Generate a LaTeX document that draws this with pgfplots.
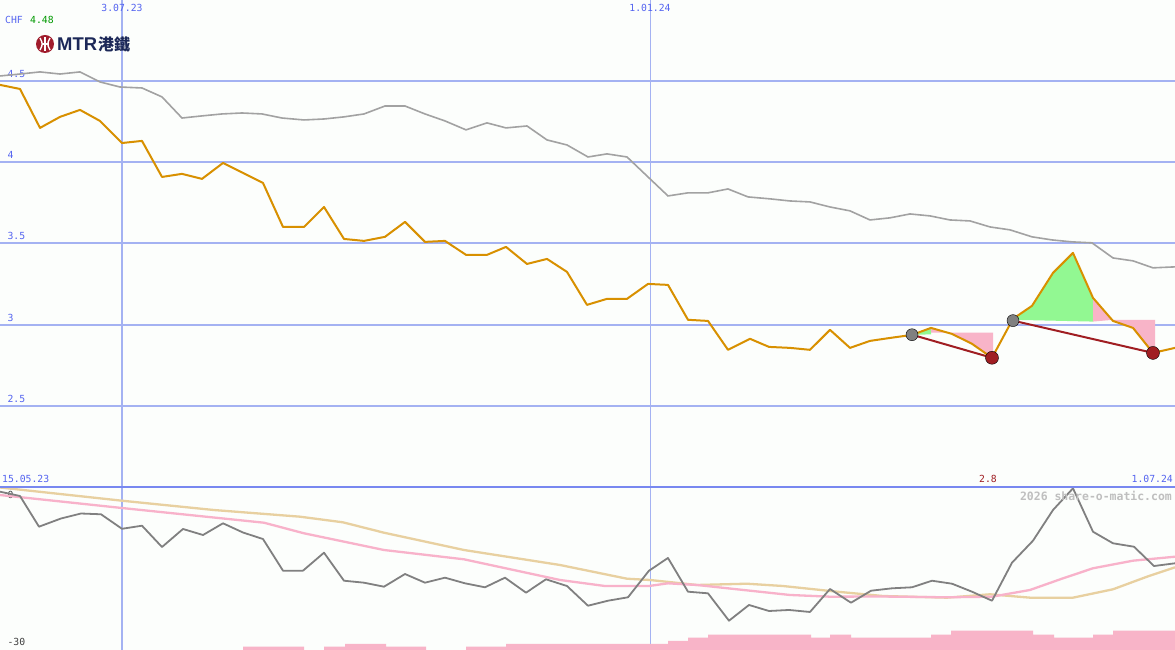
\documentclass[border=0pt]{standalone}
\usepackage{pgfplots}
\pgfplotsset{compat=1.18}
\usepackage{fontspec}
\setmainfont{DejaVu Sans Mono}
\newfontfamily\logofont{Liberation Sans}
\newfontfamily\cjk{Noto Sans CJK TC}

\definecolor{bgcol}{RGB}{252,254,252}
\definecolor{gridblue}{RGB}{164,178,242}
\definecolor{sepblue}{RGB}{120,136,240}
\definecolor{tickblue}{RGB}{84,100,240}
\definecolor{price}{RGB}{216,144,0}
\definecolor{bench}{RGB}{162,162,162}
\definecolor{relgray}{RGB}{128,128,128}
\definecolor{mapink}{RGB}{248,178,202}
\definecolor{matan}{RGB}{232,208,160}
\definecolor{barpink}{RGB}{248,180,200}
\definecolor{upgreen}{RGB}{146,248,146}
\definecolor{darkred}{RGB}{160,30,34}
\definecolor{mtrred}{RGB}{160,28,44}
\definecolor{mtrnavy}{RGB}{28,40,88}

\pgfplotsset{
  panel/.style={
    scale only axis, width=1175bp, anchor=south west,
    xmin=0, xmax=1175,
    axis line style={draw=none}, tick style={draw=none},
    /pgf/number format/assume math mode=true,
    xtick={122}, xmajorgrids,
    extra x ticks={650},
    extra x tick style={grid style={gridblue, line width=1bp}},
    grid style={gridblue, line width=2bp},
    xticklabel pos=upper,
    xticklabel style={anchor=north, text=tickblue, yshift=-1bp},
    yticklabel style={anchor=south west, xshift=4bp, yshift=0bp},
    font=\fontsize{9.8}{11}\selectfont,
  },
}

\begin{document}
\begin{tikzpicture}
\useasboundingbox (0,0) rectangle (1175bp,650bp);
\fill[bgcol] (0,0) rectangle (1175bp,650bp);

% lower panel: relative performance and averages
\begin{axis}[panel, at={(0,0)}, height=163bp,
  ymin=-30.41, ymax=2.86,
  xticklabels={}, extra x tick labels={},
  ytick={-30,0}, yticklabels={-30,0},
  yticklabel style={text=black!75, yshift=-1.5bp},
]
\addplot[matan, line width=2.3bp] coordinates {
(0,2.76) (122,0.06) (214,-1.84) (300,-3.20) (343,-4.35) (384,-6.47) (464,-10.0)
(560,-13.06) (627,-15.86) (650,-16.12) (697,-17.14) (747,-16.88) (783,-17.35)
(837,-18.51) (883,-19.39) (947,-19.73) (990,-19.04) (1030,-19.73) (1073,-19.73)
(1113,-18.02) (1147,-15.45) (1175,-13.53)};
\addplot[mapink, line width=2.3bp] coordinates {
(0,1.22) (122,-1.43) (264,-4.43) (304,-6.59) (384,-10.0) (464,-11.90) (560,-16.12)
(605,-17.35) (649,-17.35) (668,-16.80) (697,-17.14) (737,-18.02) (790,-19.18)
(830,-19.53) (880,-19.49) (947,-19.65) (992,-19.53) (1030,-18.16) (1063,-15.78)
(1093,-13.73) (1133,-12.18) (1175,-11.37)};
\addplot[relgray, line width=1.8bp, line join=round] coordinates {
(0,1.90) (20,1.02) (39,-5.24) (61,-3.57) (81,-2.55) (101,-2.71) (122,-5.67)
(142,-5.04) (162,-9.39) (183,-5.71) (203,-6.94) (223,-4.55) (243,-6.43)
(263,-7.76) (283,-14.22) (303,-14.22) (324,-10.55) (344,-16.27) (364,-16.67)
(384,-17.49) (405,-14.90) (425,-16.67) (445,-15.65) (465,-16.80) (485,-17.61)
(505,-15.65) (526,-18.71) (546,-15.98) (567,-17.35) (588,-21.37) (608,-20.35)
(628,-19.65) (649,-14.22) (668,-11.63) (688,-18.51) (708,-18.84) (729,-24.43)
(749,-21.22) (769,-22.45) (789,-22.24) (810,-22.65) (830,-17.96) (851,-20.76)
(871,-18.31) (892,-17.82) (912,-17.61) (932,-16.27) (952,-16.88) (972,-18.51)
(992,-20.35) (1012,-12.59) (1033,-8.10) (1053,-1.84) (1073,2.59) (1093,-6.27)
(1113,-8.63) (1134,-9.33) (1154,-13.27) (1175,-12.71)};
\end{axis}

% volume bars
\begin{axis}[scale only axis, width=1175bp, height=163bp, at={(0,0)}, anchor=south west,
  xmin=0, xmax=1175, ymin=0, ymax=163, hide axis]
\addplot[const plot, fill=barpink, draw=none] coordinates {
(0,0) (243,3.3) (304,0) (324,3.3) (345,6.2) (386,3.3) (426,0) (466,3.3) (506,6.2)
(668,9.2) (688,12.3) (708,15.3) (811,12.3) (830,15.3) (851,12.3) (931,15.3)
(951,19.3) (1033,15.3) (1054,12.3) (1093,15.3) (1113,19.3) (1175,19.3)} \closedcycle;
\end{axis}

% upper panel: price and benchmark
\begin{axis}[panel, at={(0,163bp)}, height=487bp,
  ymin=2, ymax=5,
  xticklabels={3.07.23}, extra x tick labels={1.01.24},
  ytick={2.5,3,3.5,4,4.5}, ymajorgrids,
  yticklabel style={text=tickblue},
  extra y ticks={2}, extra y tick labels={},
  extra y tick style={ymajorgrids=true, grid style={sepblue, line width=2bp}},
]
\addplot[fill=upgreen, draw=none] coordinates {(912,2.938) (931,2.980) (931,2.940)} -- cycle;
\addplot[fill=barpink, draw=none] coordinates {(931,2.980) (952,2.943) (972,2.882) (992,2.796) (993,2.796) (993,2.951) (931,2.951)} -- cycle;
\addplot[fill=upgreen, draw=none] coordinates {(1013,3.030) (1032,3.116) (1053,3.319) (1073,3.442) (1093,3.165) (1093,3.019)} -- cycle;
\addplot[fill=barpink, draw=none] coordinates {(1093,3.165) (1113,3.023) (1133,2.980) (1153,2.826) (1155,2.826) (1155,3.030) (1113,3.030) (1093,3.019)} -- cycle;

\addplot[bench, line width=1.6bp] coordinates {
(0,4.532) (20,4.544) (40,4.557) (60,4.544) (80,4.557) (100,4.495) (120,4.464)
(142,4.458) (162,4.403) (182,4.273) (202,4.286) (222,4.298) (242,4.304) (262,4.298)
(282,4.273) (304,4.261) (324,4.267) (344,4.280) (364,4.298) (385,4.347) (405,4.347)
(425,4.298) (445,4.255) (466,4.200) (487,4.243) (506,4.212) (527,4.224) (547,4.138)
(567,4.107) (588,4.033) (607,4.052) (627,4.033) (648,3.910) (668,3.793) (688,3.812)
(708,3.812) (728,3.836) (748,3.787) (770,3.775) (790,3.762) (810,3.756) (830,3.725)
(850,3.701) (870,3.645) (890,3.658) (910,3.682) (930,3.670) (950,3.645) (970,3.639)
(990,3.602) (1010,3.584) (1032,3.541) (1052,3.522) (1072,3.510) (1092,3.504)
(1113,3.411) (1133,3.393) (1153,3.350) (1175,3.356)};

\addplot[darkred, line width=2bp] coordinates {(912,2.938) (992,2.796)};
\addplot[darkred, line width=2bp] coordinates {(1013,3.025) (1153,2.826)};
\addplot[only marks, mark=*, mark size=6.5bp, mark options={fill=darkred, draw=none}]
  coordinates {(992,2.796) (1153,2.826)};

\addplot[price, line width=2bp, line join=round] coordinates {
(0,4.477) (20,4.452) (40,4.212) (60,4.280) (80,4.323) (100,4.255) (122,4.119)
(142,4.132) (162,3.910) (182,3.929) (202,3.898) (223,3.996) (243,3.935) (263,3.873)
(283,3.602) (304,3.602) (324,3.725) (344,3.528) (364,3.516) (385,3.541) (405,3.633)
(425,3.510) (445,3.516) (466,3.430) (487,3.430) (506,3.479) (527,3.374) (547,3.405)
(567,3.325) (587,3.122) (607,3.159) (627,3.159) (648,3.251) (668,3.245) (688,3.030)
(708,3.023) (728,2.845) (750,2.913) (769,2.863) (790,2.857) (810,2.845) (830,2.968)
(850,2.857) (870,2.900) (891,2.919) (912,2.937) (931,2.980) (952,2.943) (972,2.882)
(992,2.796) (1013,3.036) (1032,3.116) (1053,3.319) (1073,3.442) (1093,3.165)
(1113,3.023) (1133,2.980) (1153,2.826) (1175,2.857)};

\addplot[only marks, mark=*, mark size=6bp, mark options={fill=relgray, draw=none}]
  coordinates {(912,2.938) (1013,3.025)};
\end{axis}

% labels
\begin{scope}[every node/.style={inner sep=0pt, font=\fontsize{9.8}{11}\selectfont}]
\node[anchor=west, text=tickblue] at (5bp,630bp) {CHF};
\node[anchor=west, text=black!40!green] at (30bp,630bp) {4.48};
\node[anchor=west, text=tickblue] at (2bp,171bp) {15.05.23};
\node[text=darkred] at (988bp,171bp) {2.8};
\node[anchor=east, text=tickblue] at (1173bp,171bp) {1.07.24};
\node[anchor=east, text=black!25, font=\fontsize{11.5}{12}\selectfont\bfseries] at (1172bp,154bp) {2026 share-o-matic.com};
\end{scope}

% logo
\fill[mtrred] (45bp,606bp) circle (9bp);
\begin{scope}[white, line width=1.4bp]
\draw (45bp,599bp) -- (45bp,613bp);
\draw (40bp,600bp) .. controls (43bp,606bp) .. (40bp,612bp);
\draw (50bp,600bp) .. controls (47bp,606bp) .. (50bp,612bp);
\draw (41.5bp,606bp) -- (48.5bp,606bp);
\end{scope}
\node[anchor=west, inner sep=0pt, text=mtrnavy, font=\logofont\bfseries\fontsize{18.5}{19}\selectfont] at (57bp,605.5bp) {MTR};
\node[anchor=west, inner sep=0pt, text=mtrnavy, font=\cjk\bfseries\fontsize{16}{16}\selectfont] at (98bp,605.5bp) {港鐵};
\end{tikzpicture}
\end{document}
